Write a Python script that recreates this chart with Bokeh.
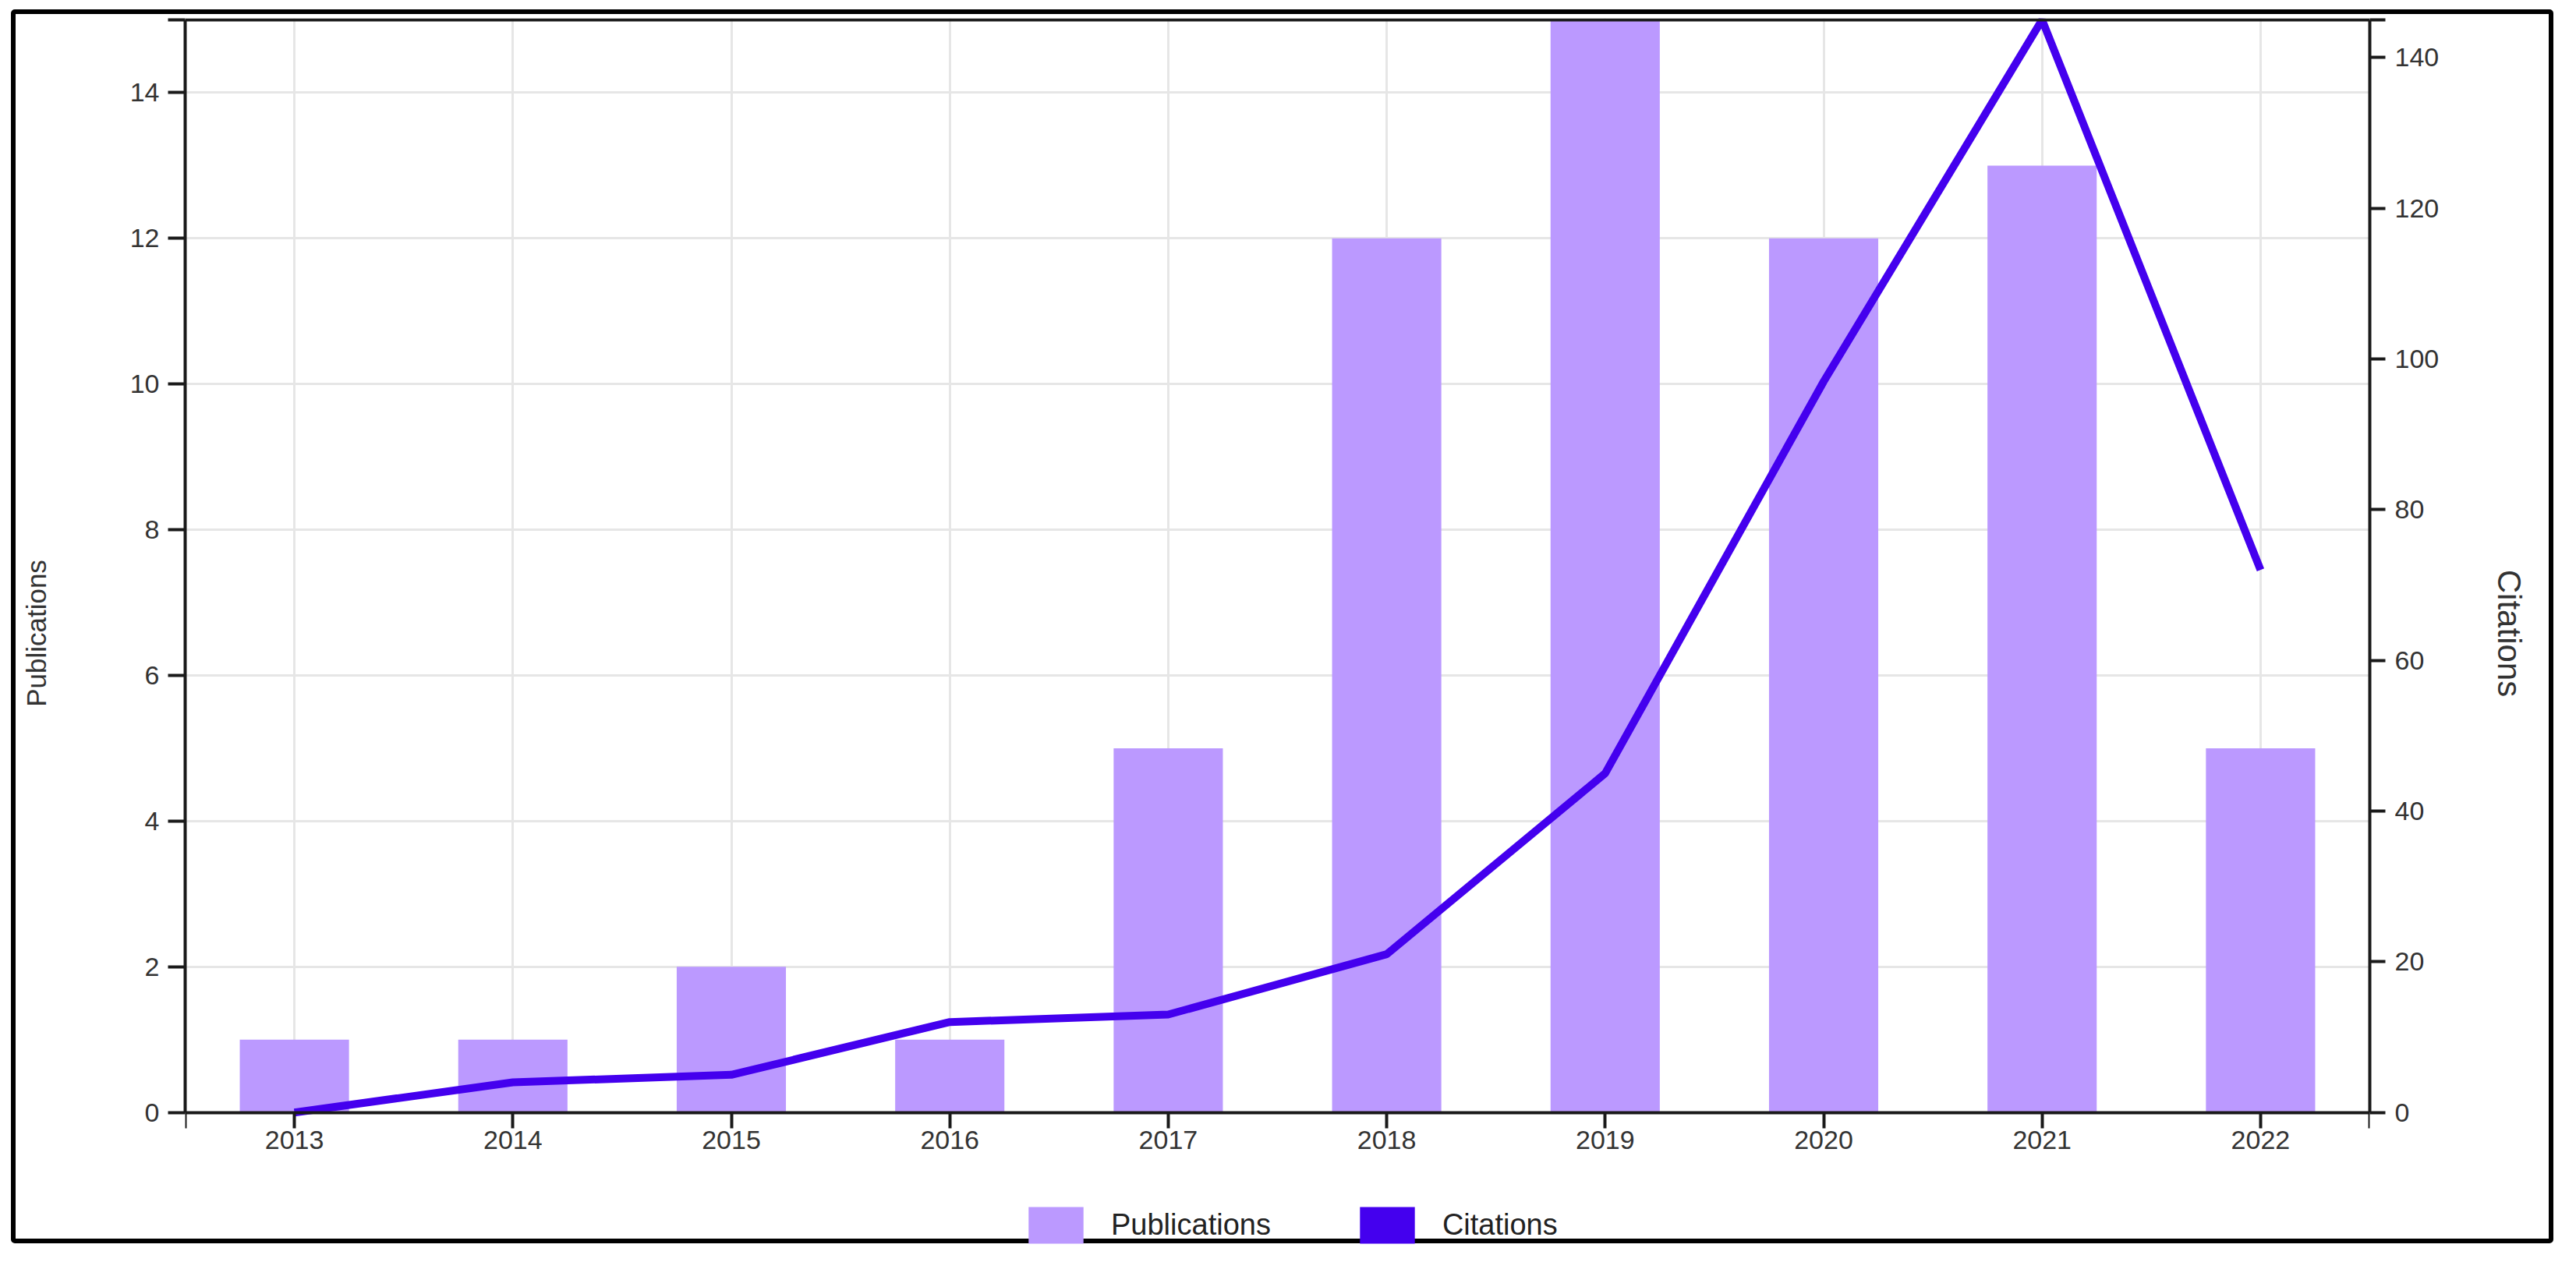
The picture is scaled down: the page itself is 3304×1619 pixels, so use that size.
from bokeh.plotting import figure
from bokeh.models import (Range1d, LinearAxis, FixedTicker, Legend, LegendItem,
                          ColumnDataSource, Span, BoxAnnotation, InlineStyleSheet)
from bokeh.embed import file_html
from bokeh.resources import INLINE

# ---- data ----
years = ["2013", "2014", "2015", "2016", "2017", "2018", "2019", "2020", "2021", "2022"]
publications = [1, 1, 2, 1, 5, 12, 15, 12, 13, 5]
citations = [0, 4, 5, 12, 13, 21, 45, 97, 145, 72]
pub_ticks = [0, 2, 4, 6, 8, 10, 12, 14]
cit_ticks = [0, 20, 40, 60, 80, 100, 120, 140]
pub_max = 15
cit_max = 145

xs = list(range(len(years)))
src = ColumnDataSource(dict(x=xs, pub=publications, cit=citations))

FONT = "Liberation Sans"
AXIS_COLOR = "#1a1a1a"
TEXT_COLOR = "#333333"

# layout constants (pixels)
CANVAS_TOP = 26
FRAME_TOP = 31
AXIS_TOP = 33
ZERO = 1424
BOTTOM = 1597

def make_range(vmax):
    per = (ZERO - AXIS_TOP) / vmax
    return Range1d(-(BOTTOM - ZERO) / per, vmax + (AXIS_TOP - FRAME_TOP) / per)

css = InlineStyleSheet(css=""":host {
  transform: translate(14px, 12px) !important;
  box-sizing: content-box !important; border: 6px solid #000 !important;
  border-radius: 5px !important; }""")

p = figure(width=3249, height=1571,
           x_range=Range1d(-0.5, len(years) - 0.5),
           y_range=make_range(pub_max),
           output_backend="svg", toolbar_location=None,
           min_border_left=217, min_border_right=242,
           min_border_top=FRAME_TOP - CANVAS_TOP, min_border_bottom=0,
           background_fill_color="white", border_fill_color="white",
           stylesheets=[css])
p.extra_y_ranges = {"cit": make_range(cit_max)}
p.outline_line_color = None

# grids
p.xgrid.ticker = FixedTicker(ticks=xs)
p.ygrid.ticker = FixedTicker(ticks=pub_ticks)
for g in (p.xgrid, p.ygrid):
    g.grid_line_color = "#e6e6e6"
    g.grid_line_width = 3
# hide grid below the baseline (legend area)
p.add_layout(BoxAnnotation(top=0, fill_color="white", fill_alpha=1,
                           line_color=None, level="underlay"))

def style_axis(ax, out):
    ax.axis_line_color = AXIS_COLOR
    ax.axis_line_width = 4
    ax.major_tick_line_color = AXIS_COLOR
    ax.major_tick_line_width = 4
    ax.major_tick_out = out
    ax.major_tick_in = 0
    ax.minor_tick_out = 0
    ax.minor_tick_in = 0
    ax.major_label_text_font = FONT
    ax.major_label_text_font_size = "34px"
    ax.major_label_text_color = TEXT_COLOR
    ax.axis_label_text_font = FONT
    ax.axis_label_text_font_style = "normal"
    ax.axis_label_text_color = TEXT_COLOR

# bottom axis, drawn at the baseline
xa = p.xaxis[0]
style_axis(xa, 20)
xa.fixed_location = 0
xa.ticker = FixedTicker(ticks=[-0.5] + xs + [len(years) - 0.5], minor_ticks=[])
ov = {i: y for i, y in zip(xs, years)}
ov[-0.5] = ""
ov[len(years) - 0.5] = ""
xa.major_label_overrides = ov
xa.major_label_standoff = 4

# left axis
ya = p.yaxis[0]
style_axis(ya, 22)
ya.bounds = (0, pub_max)
ya.ticker = FixedTicker(ticks=pub_ticks + [pub_max], minor_ticks=[])
ya.major_label_overrides = {pub_max: ""}
ya.major_label_standoff = 11
ya.axis_label = "Publications"
ya.axis_label_text_font_size = "35px"
ya.axis_label_standoff = 98

# right axis
ra = LinearAxis(y_range_name="cit")
style_axis(ra, 20)
ra.bounds = (0, cit_max)
ra.ticker = FixedTicker(ticks=cit_ticks + [cit_max], minor_ticks=[])
ra.major_label_overrides = {cit_max: ""}
ra.major_label_standoff = 12
ra.axis_label = "Citations"
ra.axis_label_text_font_size = "42px"
ra.axis_label_standoff = 64
p.add_layout(ra, "right")

# top frame line
p.add_layout(Span(location=pub_max, dimension="width",
                  line_color=AXIS_COLOR, line_width=4))

# glyphs
bars = p.vbar(x="x", top="pub", width=0.5, source=src,
              fill_color="#BB99FF", line_color=None)
p.line(x="x", y="cit", source=src, y_range_name="cit",
       line_color="#4400EE", line_width=10)
# zero-height bars used only as the legend swatch for the line
proxy = p.vbar(x="x", top=0, bottom=0, width=0.5, source=src,
               fill_color="#4400EE", line_color=None)

legend = Legend(items=[LegendItem(label="Publications", renderers=[bars]),
                       LegendItem(label="Citations", renderers=[proxy])],
                orientation="horizontal", location=(1073, 0),
                glyph_width=88, glyph_height=59, label_standoff=27,
                spacing=105, padding=0, margin=0,
                border_line_color=None, background_fill_alpha=0,
                label_text_font=FONT, label_text_font_size="38px",
                label_text_color="#222222", label_height=59)
p.add_layout(legend, "center")

open("out.html", "w").write(file_html(p, INLINE))
